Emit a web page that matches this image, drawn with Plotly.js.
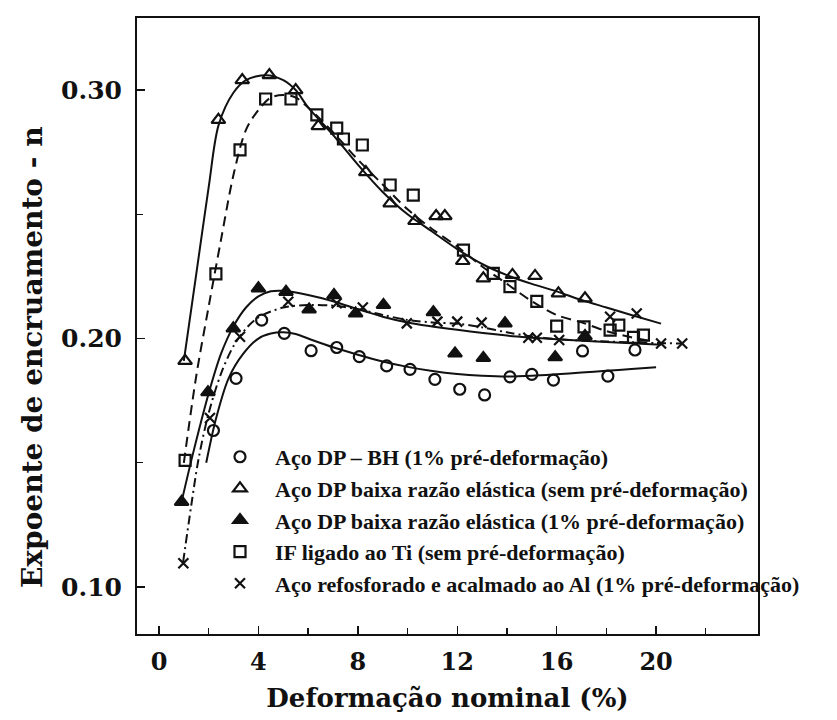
<!DOCTYPE html>
<html>
<head>
<meta charset="utf-8">
<script src="https://cdn.plot.ly/plotly-3.0.1.min.js"></script>
<style>
  html, body { margin: 0; padding: 0; background: #fff; }
  #chart { width: 837px; height: 720px; }
</style>
</head>
<body>
<div id="chart"></div>
<script>
// Strain-hardening exponent n versus nominal strain for five steels.

// Measured points, one pair of arrays per steel
const dpBhX = [2.19, 3.1, 4.13, 5.04, 6.12, 7.15, 8.06, 9.16, 10.1, 11.1, 12.1, 13.1, 14.12, 15.0, 15.87, 17.04, 18.06, 19.15];
const dpBhY = [0.163, 0.184, 0.2074, 0.2021, 0.1951, 0.1964, 0.1927, 0.189, 0.1876, 0.1836, 0.1796, 0.1773, 0.1846, 0.1856, 0.1833, 0.195, 0.1849, 0.1954];

const dpLowX = [1.05, 2.39, 3.35, 4.44, 5.5, 6.41, 8.32, 9.3, 10.3, 11.15, 11.5, 12.22, 13.05, 14.22, 15.13, 16.07, 17.14];
const dpLowY = [0.191, 0.288, 0.304, 0.306, 0.300, 0.2855, 0.267, 0.2544, 0.2473, 0.2493, 0.2493, 0.2312, 0.2242, 0.2256, 0.2252, 0.2182, 0.2162];

const dpLowPreX = [0.91, 1.97, 2.99, 4.0, 5.11, 6.04, 7.04, 7.91, 9.03, 11.04, 11.91, 13.05, 13.92, 15.94, 17.14];
const dpLowPreY = [0.1343, 0.1784, 0.2041, 0.2202, 0.2188, 0.2117, 0.2175, 0.2101, 0.2135, 0.2106, 0.194, 0.1922, 0.2061, 0.1925, 0.201];

const ifTiX = [1.05, 2.29, 3.26, 4.29, 5.31, 6.35, 7.15, 7.42, 8.18, 9.3, 10.23, 12.25, 13.45, 14.12, 15.2, 16.0, 17.1, 18.15, 18.5, 19.09, 19.49];
const ifTiY = [0.151, 0.226, 0.2759, 0.2964, 0.2964, 0.290, 0.2847, 0.2803, 0.2779, 0.2618, 0.2577, 0.2356, 0.2262, 0.2209, 0.215, 0.205, 0.2047, 0.2034, 0.2054, 0.2005, 0.2014];

const refosX = [0.98, 2.05, 3.26, 5.2, 7.15, 8.2, 9.97, 11.2, 12.0, 12.98, 14.86, 15.2, 16.1, 18.15, 19.22, 20.2, 21.05];
const refosY = [0.1096, 0.168, 0.2007, 0.2148, 0.2142, 0.2125, 0.2061, 0.2068, 0.2068, 0.2064, 0.2003, 0.2003, 0.1994, 0.2088, 0.2101, 0.198, 0.198];

// Fitted trend curves
const dpBhFitX = [1.9, 2.3, 2.8, 3.4, 4.0, 4.5, 5.0, 5.5, 6.0, 7.0, 8.0, 9.0, 10.0, 11.0, 12.0, 13.0, 14.0, 15.0, 16.0, 17.0, 18.0, 19.0, 20.0];
const dpBhFitY = [0.150, 0.168, 0.184, 0.194, 0.200, 0.202, 0.2025, 0.2018, 0.200, 0.1965, 0.1935, 0.1908, 0.1886, 0.1869, 0.1857, 0.185, 0.1847, 0.185, 0.1856, 0.1863, 0.187, 0.1877, 0.1884];

const dpLowFitX = [1.0, 1.5, 2.0, 2.4, 3.0, 3.5, 4.3, 5.0, 5.5, 6.0, 7.0, 8.0, 9.0, 10.0, 11.0, 12.0, 13.0, 14.0, 15.0, 16.0, 17.0, 18.0, 19.0, 20.2];
const dpLowFitY = [0.191, 0.226, 0.261, 0.286, 0.299, 0.304, 0.306, 0.304, 0.300, 0.293, 0.282, 0.270, 0.259, 0.250, 0.243, 0.236, 0.230, 0.2255, 0.222, 0.219, 0.2155, 0.2125, 0.2095, 0.206];

const dpLowPreFitX = [0.9, 1.4, 2.0, 2.5, 3.0, 3.5, 4.0, 4.5, 5.0, 6.0, 7.0, 8.0, 9.0, 10.0, 12.0, 14.0, 16.0, 18.0, 20.2];
const dpLowPreFitY = [0.134, 0.155, 0.178, 0.194, 0.205, 0.2125, 0.217, 0.219, 0.2192, 0.2175, 0.215, 0.2118, 0.2088, 0.2065, 0.2035, 0.2012, 0.1997, 0.1986, 0.1975];

const ifTiFitX = [1.0, 1.5, 2.0, 2.5, 3.0, 3.5, 4.0, 4.5, 5.0, 5.5, 6.0, 7.0, 8.0, 9.0, 10.0, 11.0, 12.0, 13.0, 14.0, 15.0, 16.0, 17.0, 18.0, 19.0, 19.8];
const ifTiFitY = [0.150, 0.185, 0.213, 0.240, 0.266, 0.284, 0.292, 0.297, 0.298, 0.297, 0.293, 0.283, 0.272, 0.262, 0.252, 0.244, 0.237, 0.229, 0.222, 0.215, 0.2095, 0.2065, 0.203, 0.2005, 0.199];

const refosFitX = [0.97, 1.3, 1.6, 2.0, 2.5, 3.0, 3.5, 4.0, 5.0, 6.0, 7.0, 8.0, 9.0, 10.0, 11.0, 12.0, 13.0, 14.0, 15.0, 16.0, 17.0, 18.0, 19.0, 20.0, 21.1];
const refosFitY = [0.110, 0.133, 0.152, 0.170, 0.186, 0.197, 0.204, 0.2085, 0.2125, 0.2135, 0.2132, 0.2118, 0.2095, 0.2075, 0.2065, 0.206, 0.2045, 0.2025, 0.2008, 0.1998, 0.1992, 0.1988, 0.1985, 0.1982, 0.198];

// Legend labels
const names = [
  'Aço DP – BH (1% pré-deformação)',
  'Aço DP baixa razão elástica (sem pré-deformação)',
  'Aço DP baixa razão elástica (1% pré-deformação)',
  'IF ligado ao Ti (sem pré-deformação)',
  'Aço refosforado e acalmado ao Al (1% pré-deformação)'
];

const xTicks = [0, 4, 8, 12, 16, 20];
const xMinorTicks = [2, 6, 10, 14, 18, 22];
const yTicks = [0.10, 0.20, 0.30];
const yTickText = ['0.10', '0.20', '0.30'];
const yMinorTicks = [0.15, 0.25];

const ink = '#111';

function curve(x, y, dash) {
  return {
    x: x, y: y, type: 'scatter', mode: 'lines', showlegend: false, hoverinfo: 'skip',
    line: { color: ink, width: 2, dash: dash, shape: 'spline', smoothing: 0.9 }
  };
}
function points(x, y, name, symbol, size) {
  return {
    x: x, y: y, type: 'scatter', mode: 'markers', name: name,
    marker: { symbol: symbol, size: size, color: ink, line: { color: ink, width: 2.2 } }
  };
}

const traces = [
  curve(dpBhFitX, dpBhFitY, 'solid'),
  curve(dpLowFitX, dpLowFitY, 'solid'),
  curve(dpLowPreFitX, dpLowPreFitY, 'solid'),
  curve(ifTiFitX, ifTiFitY, '10px,6px'),
  curve(refosFitX, refosFitY, '9px,4px,2px,4px'),
  points(dpBhX, dpBhY, names[0], 'circle-open', 11),
  points(dpLowX, dpLowY, names[1], 'triangle-up-open', 12),
  points(dpLowPreX, dpLowPreY, names[2], 'triangle-up', 12),
  points(ifTiX, ifTiY, names[3], 'square-open', 11),
  points(refosX, refosY, names[4], 'x-thin-open', 10)
];

const yTickFont = { family: 'DejaVu Serif', size: 25, weight: 'bold', color: ink };
const xTickFont = { family: 'DejaVu Serif', size: 24, weight: 'bold', color: ink };
const titleFont = { family: 'DejaVu Serif', size: 26, weight: 'bold', color: ink };

const layout = {
  width: 837, height: 720,
  margin: { l: 137, r: 79, t: 18, b: 86, pad: 0 },
  paper_bgcolor: '#fff', plot_bgcolor: '#fff',
  showlegend: true,
  legend: {
    x: 0.1095, y: 0.3215, xanchor: 'left', yanchor: 'top',
    bgcolor: 'rgba(0,0,0,0)', borderwidth: 0, itemwidth: 60,
    font: { family: 'Liberation Serif', size: 22, weight: 'bold', color: ink }
  },
  xaxis: {
    range: [-0.885, 24.1], tickmode: 'array', tickvals: xTicks,
    ticks: 'inside', ticklen: 8, tickwidth: 1.5, tickcolor: ink,
    minor: { tickmode: 'array', tickvals: xMinorTicks, ticks: 'inside', ticklen: 6, tickwidth: 1.3, tickcolor: ink },
    showline: true, linecolor: ink, linewidth: 2, mirror: true,
    showgrid: false, zeroline: false, tickfont: xTickFont, ticklabelstandoff: 5,
    title: { text: 'Deformação nominal (%)', font: titleFont, standoff: 14 }
  },
  yaxis: {
    range: [0.0811, 0.329], tickmode: 'array', tickvals: yTicks, ticktext: yTickText,
    ticks: 'inside', ticklen: 8, tickwidth: 1.5, tickcolor: ink,
    minor: { tickmode: 'array', tickvals: yMinorTicks, ticks: 'inside', ticklen: 6, tickwidth: 1.3, tickcolor: ink },
    showline: true, linecolor: ink, linewidth: 2, mirror: true,
    showgrid: false, zeroline: false, tickfont: yTickFont, ticklabelstandoff: 8
  },
  annotations: [{
    text: 'Expoente de encruamento - n', textangle: -90,
    xref: 'paper', yref: 'paper', x: -0.1675, y: 0.4497,
    xanchor: 'center', yanchor: 'middle', showarrow: false,
    font: { family: 'DejaVu Serif', size: 28, weight: 'bold', color: ink }
  }]
};

Plotly.newPlot('chart', traces, layout, { displayModeBar: false, staticPlot: true });
</script>
</body>
</html>
